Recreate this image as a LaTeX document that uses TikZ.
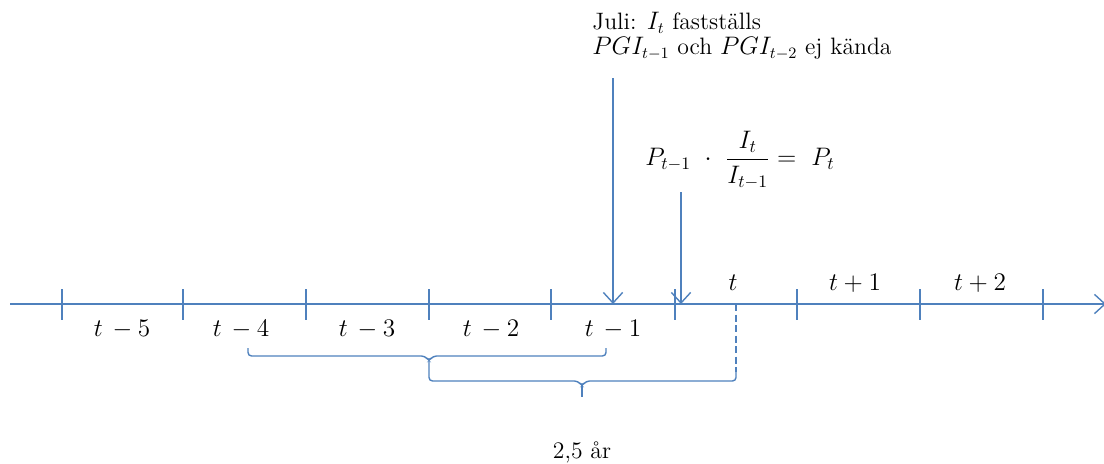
\documentclass[tikz,border=0pt]{standalone}
\usepackage{amsmath}
\usetikzlibrary{arrows.meta}
\definecolor{lineblue}{RGB}{79,129,189}

\begin{document}
\begin{tikzpicture}[
    x=0.02cm, y=-0.02cm,
    every node/.style={font=\fontsize{13.5}{14.5}\selectfont},
    axis/.style={draw=lineblue, line width=0.8pt},
    arrow/.style={axis, -{Straight Barb[length=6pt,width=11pt]}},
    brace/.style={axis, rounded corners=2pt}
]
\useasboundingbox (0,0) rectangle (1104,463);
% time axis
\coordinate (a0) at (10,304);
\coordinate (a1) at (1106,304);
\draw[arrow] (a0) -- (a1);
\foreach \x [count=\i] in {62,183,306,429,551,675,797,920,1043} {
  \draw[axis] (\x,289) -- (\x,320);
}
% period labels
\node (t5) at (122,329) {$t\,-5$};
\node (t4) at (241,329) {$t\,-4$};
\node (t3) at (367,329) {$t\,-3$};
\node (t2) at (491,329) {$t\,-2$};
\node (t1) at (613,329) {$t\,-1$};
\node (t0) at (733,283) {$t$};
\node (tp1) at (855,283) {$t+1$};
\node (tp2) at (980,283) {$t+2$};
% annotations
\node[align=left, anchor=west, inner sep=0pt] (juli) at (592,36) {Juli: $I_t$ fastställs\\ $PGI_{t-1}$ och $PGI_{t-2}$ ej kända};
\node[font=\fontsize{14}{17}\selectfont] (form) at (740,160) {$P_{t-1}\ \cdot\ \dfrac{I_t}{I_{t-1}} =\ P_t$};
\coordinate (j0) at (613,78);
\coordinate (j1) at (613,304);
\coordinate (f0) at (681,192);
\coordinate (f1) at (681,304);
\draw[arrow] (j0) -- (j1);
\draw[arrow] (f0) -- (f1);
% brackets
\coordinate (d0) at (736,304);
\coordinate (d1) at (736,372);
\draw[axis, dash pattern=on 4pt off 2pt] (d0) -- (d1);
\draw[brace] (248,348) -- (248,356) -- (425,356) -- (429,361) -- (433,356) -- (606,356) -- (606,348);
\draw[brace] (429,361) -- (429,381) -- (578,381) -- (582,386) -- (586,381) -- (736,381) -- (d1);
\draw[axis] (582,385) -- (582,397);
\node (span) at (582,452) {2,5 år};
\end{tikzpicture}
\end{document}
